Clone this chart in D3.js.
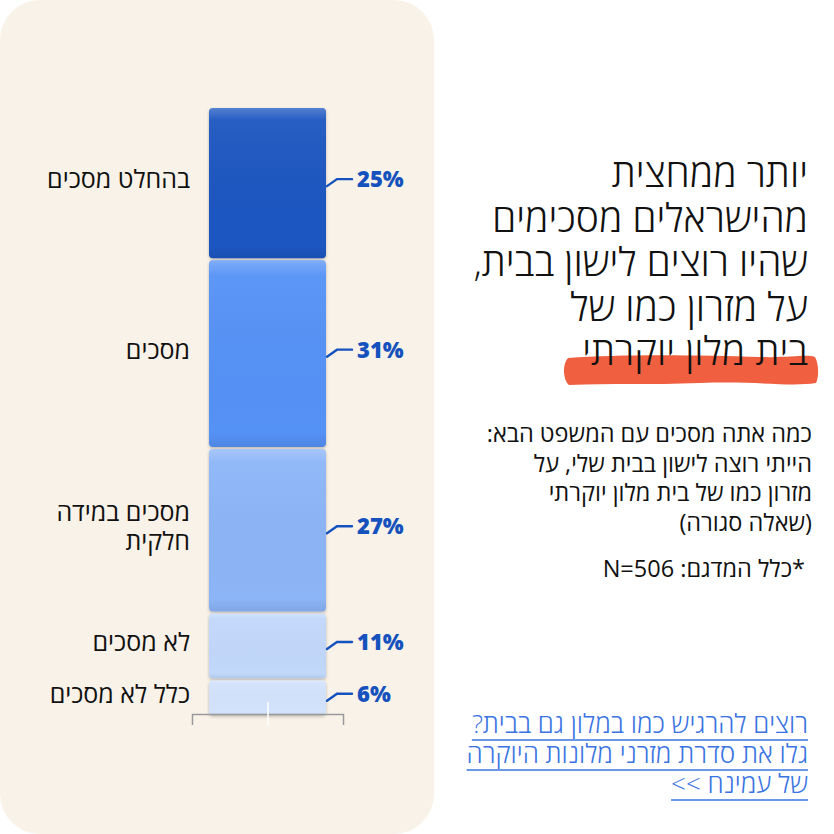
<!DOCTYPE html>
<html lang="he">
<head>
<meta charset="utf-8">
<script src="https://cdn.jsdelivr.net/npm/d3@7"></script>
<style>
  html, body { margin: 0; padding: 0; background: #fff; }
  svg text { font-family: "Open Sans", "DejaVu Sans", sans-serif; }
</style>
</head>
<body>
<div id="chart"></div>
<script>
// Survey answers (top segment first)
const answers = ["בהחלט מסכים", "מסכים", "מסכים במידה חלקית", "לא מסכים", "כלל לא מסכים"];
const answerLines = [["בהחלט מסכים"], ["מסכים"], ["מסכים במידה", "חלקית"], ["לא מסכים"], ["כלל לא מסכים"]];
const shares = [25, 31, 27, 11, 6];
const colors = ["#1a57c1", "#5592f6", "#8cb5f7", "#c2d8fb", "#d3e3fc"];

const titleLines = ["יותר ממחצית", "מהישראלים מסכימים", "שהיו רוצים לישון בבית,", "על מזרון כמו של", "בית מלון יוקרתי"];
const questionLines = ["כמה אתה מסכים עם המשפט הבא:", "הייתי רוצה לישון בבית שלי, על", "מזרון כמו של בית מלון יוקרתי", "(שאלה סגורה)"];
const sampleNote = "*כלל המדגם: N=506";
const linkLines = ["רוצים להרגיש כמו במלון גם בבית?", "גלו את סדרת מזרני מלונות היוקרה", "של עמינח >>"];

const width = 834;
const height = 834;

const svg = d3.select("#chart").append("svg").attr("width", width).attr("height", height);

const defs = svg.append("defs");
const shadow = defs.append("filter").attr("id", "shadow").attr("x", "-20%").attr("y", "-20%").attr("width", "140%").attr("height", "140%");
shadow.append("feDropShadow").attr("dx", 0).attr("dy", 1.5).attr("stdDeviation", 1.5).attr("flood-color", "#000").attr("flood-opacity", 0.25);

const shine = defs.append("linearGradient").attr("id", "shine").attr("x1", 0).attr("y1", 0).attr("x2", 0).attr("y2", 1);
shine.append("stop").attr("offset", "0%").attr("stop-color", "#fff").attr("stop-opacity", 0.25);
shine.append("stop").attr("offset", "8%").attr("stop-color", "#fff").attr("stop-opacity", 0.05);
shine.append("stop").attr("offset", "92%").attr("stop-color", "#000").attr("stop-opacity", 0);
shine.append("stop").attr("offset", "100%").attr("stop-color", "#000").attr("stop-opacity", 0.08);

// background panel
svg.append("rect").attr("x", 0).attr("y", 0).attr("width", 434).attr("height", 834)
  .attr("rx", 40).attr("fill", "#f9f2e8");

// stacked column
let acc = 0;
const stacked = shares.map((v, i) => {
  const d = { label: answerLines[i], value: v, y0: acc, y1: acc + v, color: colors[i] };
  acc += v;
  return d;
});

const y = d3.scaleLinear().domain([0, d3.sum(shares)]).range([107, 716]);
const x = d3.scaleBand().domain(["all"]).range([209, 326]).padding(0);
const gap = 1;

const seg = svg.selectAll(".seg").data(stacked).enter().append("g").attr("class", "seg");

seg.append("rect")
  .attr("x", x("all"))
  .attr("y", (d) => y(d.y0) + gap)
  .attr("width", x.bandwidth())
  .attr("height", (d) => y(d.y1) - y(d.y0) - gap * 2)
  .attr("rx", 4)
  .attr("fill", (d) => d.color)
  .attr("filter", "url(#shadow)");

seg.append("rect")
  .attr("x", x("all"))
  .attr("y", (d) => y(d.y0) + gap)
  .attr("width", x.bandwidth())
  .attr("height", (d) => y(d.y1) - y(d.y0) - gap * 2)
  .attr("rx", 4)
  .attr("fill", "url(#shine)");

// leader lines + percent labels
const mid = (d) => (y(d.y0) + y(d.y1)) / 2 - 5;
const bx = x("all") + x.bandwidth();

seg.append("path")
  .attr("d", (d) => `M${bx + 1},${mid(d) + 8} L${bx + 11},${mid(d) + 1} H${bx + 26}`)
  .attr("fill", "none")
  .attr("stroke", "#1652bd")
  .attr("stroke-width", 2.4)
  .attr("stroke-linecap", "round");

seg.append("text")
  .attr("x", bx + 31)
  .attr("y", (d) => mid(d) + 9)
  .attr("font-weight", 800)
  .attr("font-size", 22)
  .attr("fill", "#1652bd")
  .text((d) => d.value + "%");

// category labels on the left
seg.each(function (d) {
  const n = d.label.length;
  const t = d3.select(this).append("text")
    .attr("direction", "rtl")
    .attr("text-anchor", "start")
    .attr("font-size", 25)
    .attr("fill", "#111");
  d.label.forEach((line, k) => {
    t.append("tspan")
      .attr("x", 190)
      .attr("y", (y(d.y0) + y(d.y1)) / 2 + 5 + (k - (n - 1) / 2) * 29)
      .text(line);
  });
});

// bracket under the column
svg.append("path")
  .attr("d", "M192.5,725 V714.5 H343.5 V725")
  .attr("fill", "none").attr("stroke", "#9a9a9a").attr("stroke-width", 1.5);
svg.append("line")
  .attr("x1", 268).attr("x2", 268).attr("y1", 702).attr("y2", 726)
  .attr("stroke", "#fff").attr("stroke-width", 1.5);

// orange highlight behind the last title line
svg.append("path")
  .attr("d", "M568,358 C620,354 700,355 760,357 C790,358 806,354 815,357 C819,364 819,377 816,383 C790,387 760,381 700,383 C650,385 610,383 569,385 C563,380 562,364 568,358 Z")
  .attr("fill", "#f05f3f");

// title
svg.append("g").selectAll("text").data(titleLines).enter().append("text")
  .attr("direction", "rtl").attr("text-anchor", "start")
  .attr("x", 808).attr("y", (d, i) => 187 + i * 44.6)
  .attr("font-size", 39).attr("font-weight", 300).attr("fill", "#111")
  .text((d) => d);

// question text
svg.append("g").selectAll("text").data(questionLines).enter().append("text")
  .attr("direction", "rtl").attr("text-anchor", "start")
  .attr("x", 812).attr("y", (d, i) => 442 + i * 29.5)
  .attr("font-size", 23.5).attr("fill", "#111")
  .text((d) => d);

svg.append("text")
  .attr("direction", "rtl").attr("text-anchor", "start")
  .attr("x", 805).attr("y", 577)
  .attr("font-size", 23.5).attr("fill", "#111")
  .text(sampleNote);

// link
const link = svg.append("g");
link.selectAll("text").data(linkLines).enter().append("text")
  .attr("direction", "rtl").attr("text-anchor", "start")
  .attr("x", 808).attr("y", (d, i) => 733 + i * 30)
  .attr("font-size", 26).attr("font-weight", 300).attr("fill", "#3a74e2")
  .text((d) => d)
  .each(function (d, i) {
    const b = this.getBBox();
    link.append("line")
      .attr("x1", b.x).attr("x2", b.x + b.width)
      .attr("y1", 733 + i * 30 + 7).attr("y2", 733 + i * 30 + 7)
      .attr("stroke", "#3a74e2").attr("stroke-width", 1.3);
  });
</script>
</body>
</html>
